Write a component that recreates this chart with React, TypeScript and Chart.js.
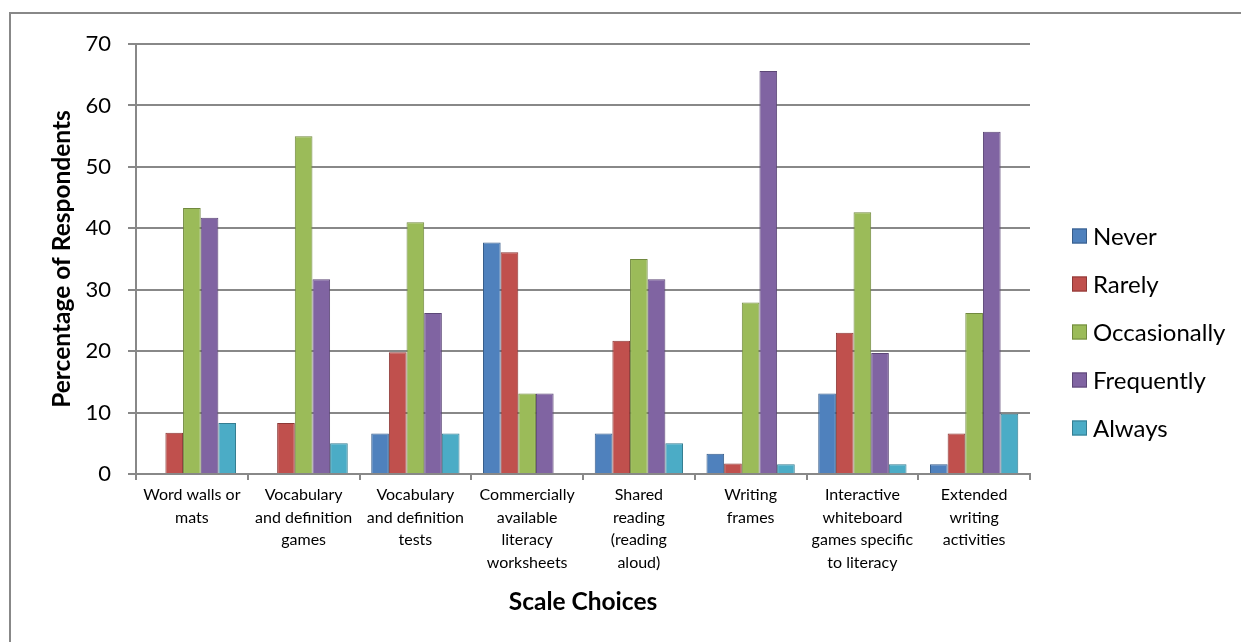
import { useEffect, useRef } from 'react';
import { Chart, registerables } from 'chart.js';

Chart.register(...registerables);

// Survey categories (multi-line axis labels)
const categories: string[][] = [
  ['Word walls or', 'mats'],
  ['Vocabulary', 'and definition', 'games'],
  ['Vocabulary', 'and definition', 'tests'],
  ['Commercially', 'available', 'literacy', 'worksheets'],
  ['Shared', 'reading', '(reading', 'aloud)'],
  ['Writing', 'frames'],
  ['Interactive', 'whiteboard', 'games specific', 'to literacy'],
  ['Extended', 'writing', 'activities'],
];

// Percentage of respondents per scale choice
const never = [0, 0, 6.6, 37.7, 6.6, 3.3, 13.1, 1.6];
const rarely = [6.7, 8.3, 19.8, 36.1, 21.7, 1.7, 23.0, 6.6];
const occasionally = [43.3, 55.0, 41.0, 13.1, 35.0, 27.9, 42.6, 26.2];
const frequently = [41.7, 31.7, 26.2, 13.1, 31.7, 65.6, 19.7, 55.7];
const always = [8.3, 5.0, 6.6, 0, 5.0, 1.6, 1.6, 9.8];

const seriesNames = ['Never', 'Rarely', 'Occasionally', 'Frequently', 'Always'];
const seriesValues = [never, rarely, occasionally, frequently, always];
const fillColors = ['#4F81BD', '#C0504D', '#9BBB59', '#8064A2', '#4BACC6'];
const edgeColors = ['#385D8A', '#8C3836', '#71893F', '#5C4776', '#357D91'];

const yMin = 0;
const yMax = 70;
const yStep = 10;

const FONT = 'Lato, "Open Sans", sans-serif';
const GRID = '#888888';
const CANVAS_W = 1241;
const CANVAS_H = 664;

// Legend drawn to the right of the plot, centred on the canvas height
const sideLegend = {
  id: 'sideLegend',
  afterDraw(chart: any) {
    const { ctx, chartArea } = chart;
    const ds = chart.data.datasets;
    const gap = 48;
    const box = 15;
    const x = chartArea.right + 42;
    const y0 = chart.height / 2 - (gap * (ds.length - 1)) / 2;
    ctx.save();
    ctx.font = `24px ${FONT}`;
    ctx.textBaseline = 'middle';
    ctx.textAlign = 'left';
    ds.forEach((d: any, i: number) => {
      const y = Math.round(y0 + i * gap);
      ctx.fillStyle = d.backgroundColor;
      ctx.fillRect(x, y - box / 2, box, box);
      ctx.strokeStyle = d.borderColor;
      ctx.lineWidth = 1;
      ctx.strokeRect(x + 0.5, y - box / 2 + 0.5, box - 1, box - 1);
      ctx.fillStyle = '#000';
      ctx.fillText(d.label, x + box + 6, y + 1);
    });
    ctx.restore();
  },
};

export default function App() {
  const canvasRef = useRef<HTMLCanvasElement | null>(null);

  useEffect(() => {
    const canvas = canvasRef.current;
    if (!canvas) return;
    const chart = new Chart(canvas, {
      type: 'bar',
      data: {
        labels: categories,
        datasets: seriesNames.map((name, i) => ({
          label: name,
          data: seriesValues[i],
          backgroundColor: fillColors[i],
          borderColor: edgeColors[i],
          borderWidth: 1,
          borderSkipped: 'bottom',
          categoryPercentage: 0.79,
          barPercentage: 1.0,
        })),
      },
      options: {
        responsive: false,
        animation: false,
        devicePixelRatio: 1,
        layout: { padding: { left: 0, top: 44, right: CANVAS_W - 1030, bottom: 0 } },
        plugins: {
          legend: { display: false },
          tooltip: { enabled: false },
        },
        scales: {
          x: {
            grid: {
              display: true,
              drawOnChartArea: false,
              drawTicks: true,
              tickLength: 6,
              color: GRID,
              lineWidth: 2,
              offset: true,
            },
            border: { display: true, color: GRID, width: 2 },
            ticks: {
              color: '#000',
              font: { family: FONT, size: 16, lineHeight: 1.4 },
              padding: 4,
              maxRotation: 0,
              autoSkip: false,
            },
            title: {
              display: true,
              text: 'Scale Choices',
              color: '#000',
              font: { family: FONT, size: 24.5, weight: 'bold' },
              padding: { top: 0, bottom: 47 },
            },
            afterFit(scale: any) {
              scale.height = CANVAS_H - 474;
            },
          },
          y: {
            min: yMin,
            max: yMax,
            ticks: {
              stepSize: yStep,
              color: '#000',
              font: { family: FONT, size: 22 },
              padding: 17,
            },
            grid: {
              color: GRID,
              lineWidth: 2,
              tickLength: 8,
              drawTicks: true,
            },
            border: { display: true, color: GRID, width: 2 },
            title: {
              display: true,
              text: 'Percentage of Respondents',
              color: '#000',
              font: { family: FONT, size: 24.5, weight: 'bold' },
              padding: { top: 47, bottom: 0 },
            },
            afterFit(scale: any) {
              scale.width = 136;
            },
          },
        },
      },
      plugins: [sideLegend],
    });
    return () => chart.destroy();
  }, []);

  return (
    <div
      style={{
        position: 'fixed',
        left: 0,
        top: 0,
        width: CANVAS_W,
        height: 642,
        overflow: 'hidden',
        background: '#fff',
      }}
    >
      <div
        style={{
          position: 'absolute',
          left: 9,
          top: 12,
          width: 1400,
          height: 800,
          border: '2px solid #888888',
          boxSizing: 'border-box',
        }}
      />
      <canvas
        ref={canvasRef}
        width={CANVAS_W}
        height={CANVAS_H}
        style={{ position: 'absolute', left: 0, top: 0, width: CANVAS_W, height: CANVAS_H }}
      />
    </div>
  );
}
